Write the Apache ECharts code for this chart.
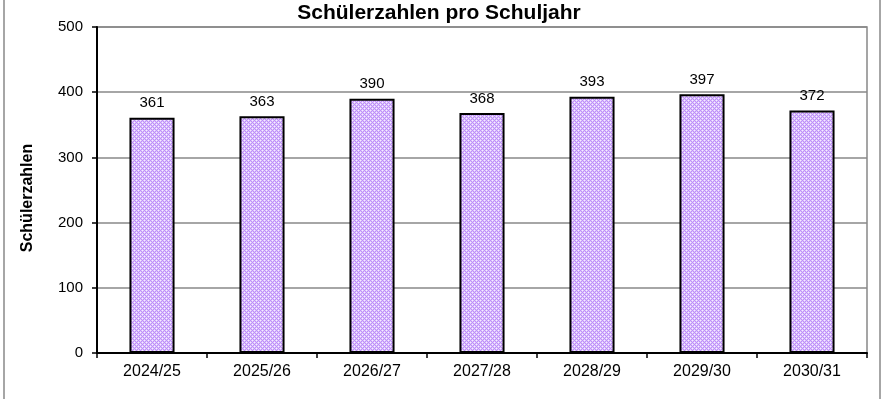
<!DOCTYPE html>
<html>
<head>
<meta charset="utf-8">
<script src="https://cdn.jsdelivr.net/npm/echarts@6/dist/echarts.min.js"></script>
<style>
  html, body { margin: 0; padding: 0; background: #fff; }
  #chart { width: 886px; height: 399px; }
</style>
</head>
<body>
<div id="chart"></div>
<script>
const categories = ['2024/25', '2025/26', '2026/27', '2027/28', '2028/29', '2029/30', '2030/31'];
const students = [361, 363, 390, 368, 393, 397, 372];
const yAxisTitle = 'Schülerzahlen';

// dotted purple fill like the office chart pattern
function makePattern() {
  const c = document.createElement('canvas');
  c.width = 4; c.height = 4;
  const ctx = c.getContext('2d');
  ctx.fillStyle = '#be8ef9';
  ctx.fillRect(0, 0, 4, 4);
  ctx.fillStyle = '#dcc4fd';
  [[1, 0], [3, 0], [0, 1], [0, 3], [1, 2], [3, 2], [2, 1], [2, 3]].forEach(p => ctx.fillRect(p[0], p[1], 1, 1));
  ctx.fillStyle = '#f6eeff';
  ctx.fillRect(0, 0, 1, 1);
  ctx.fillRect(2, 2, 1, 1);
  return c;
}

const chart = echarts.init(document.getElementById('chart'));
const font = 'Liberation Sans, Arial, sans-serif';

chart.setOption({
  backgroundColor: '#fff',
  animation: false,
  title: {
    text: 'Schülerzahlen pro Schuljahr',
    left: 434,
    textAlign: 'center',
    top: -2,
    textStyle: { fontFamily: font, fontSize: 21, fontWeight: 'bold', color: '#000' }
  },
  grid: {
    left: 97, right: 19, top: 27, bottom: 46,
    show: true, borderColor: '#888', borderWidth: 1.5
  },
  xAxis: {
    type: 'category',
    data: categories,
    axisLine: { lineStyle: { color: '#000', width: 2 } },
    axisTick: { show: true, alignWithLabel: false, length: 5, lineStyle: { color: '#000', width: 1.5 } },
    axisLabel: { fontFamily: font, fontSize: 16, color: '#000', margin: 11 }
  },
  yAxis: {
    type: 'value',
    min: 0, max: 500, interval: 100,
    axisLine: { show: true, lineStyle: { color: '#000', width: 2 } },
    axisTick: { show: true, length: 5, lineStyle: { color: '#000', width: 1.5 } },
    axisLabel: { fontFamily: font, fontSize: 15, color: '#000', margin: 14 },
    splitLine: { lineStyle: { color: '#888', width: 1.5 } }
  },
  graphic: [
    { type: 'line', shape: { x1: 4, y1: 0, x2: 4, y2: 399 }, style: { stroke: '#888', lineWidth: 1.5 } },
    { type: 'line', shape: { x1: 880, y1: 0, x2: 880, y2: 399 }, style: { stroke: '#888', lineWidth: 1.5 } },
    {
      type: 'text', x: 28, y: 198, rotation: Math.PI / 2,
      style: {
        text: yAxisTitle, fontFamily: font, fontSize: 16, fontWeight: 'bold', fill: '#000',
        align: 'center', verticalAlign: 'middle'
      }
    }
  ],
  series: [{
    type: 'bar',
    data: students,
    barWidth: '41%',
    itemStyle: {
      color: { image: makePattern(), repeat: 'repeat' },
      borderColor: '#000',
      borderWidth: 2
    },
    label: {
      show: true,
      position: 'top',
      distance: 7,
      fontFamily: font,
      fontSize: 15,
      color: '#000'
    }
  }]
});
</script>
</body>
</html>
